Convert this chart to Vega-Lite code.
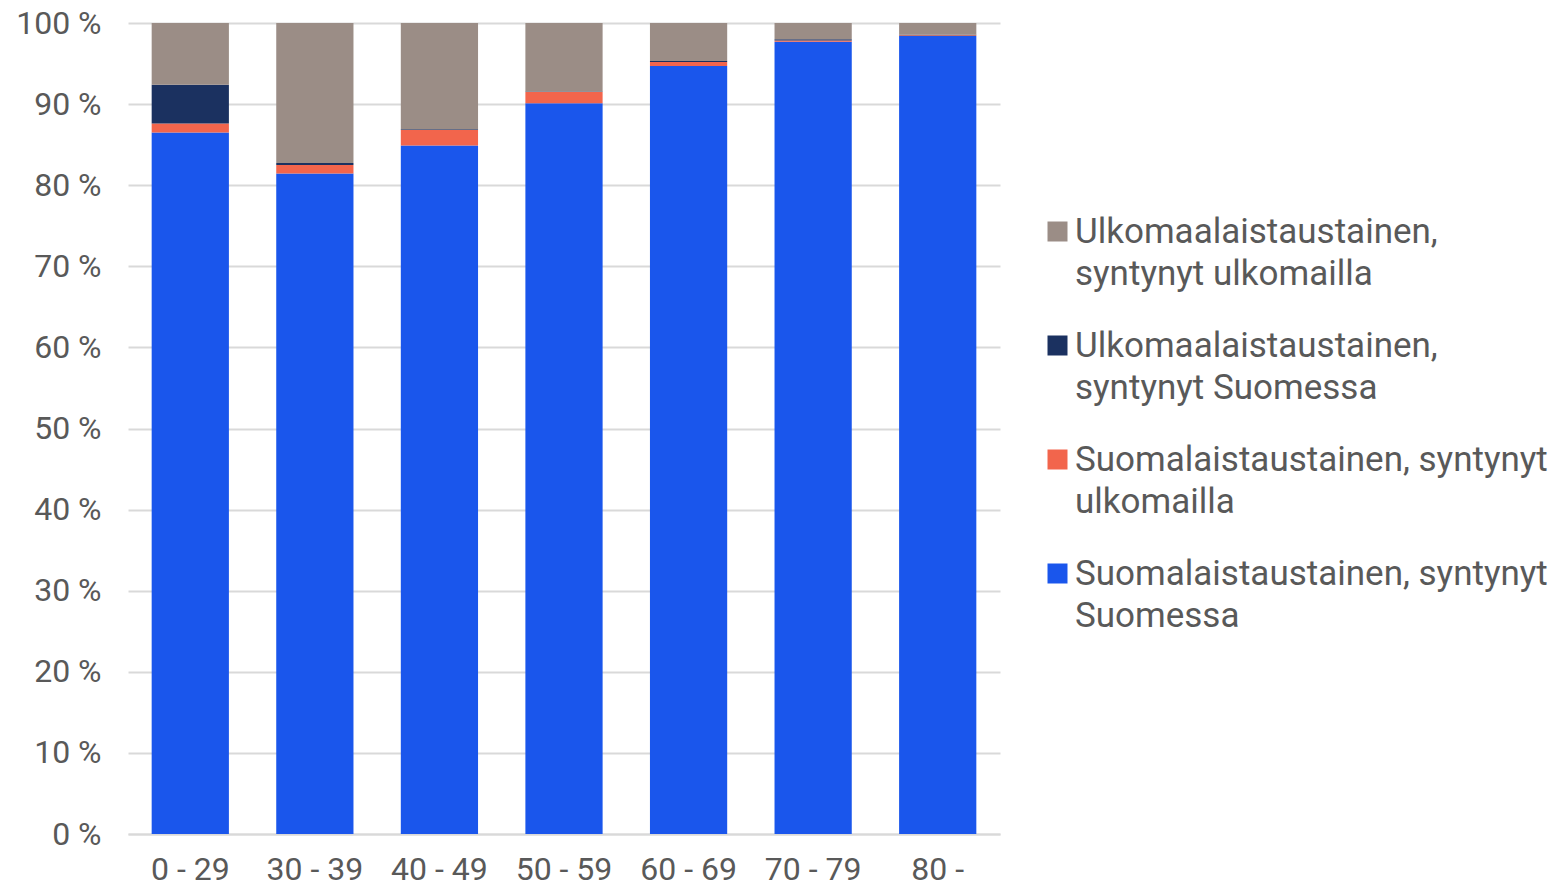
{
  "$schema": "https://vega.github.io/schema/vega-lite/v6.json",
  "width": 872,
  "height": 811,
  "autosize": "none",
  "padding": {"left": 128, "top": 23, "right": 562, "bottom": 52},
  "background": "white",
  "data": {
    "values": [
      {"ika": "0 - 29", "ryhma": "Suomalaistaustainen, syntynyt Suomessa", "osuus": 86.5},
      {"ika": "0 - 29", "ryhma": "Suomalaistaustainen, syntynyt ulkomailla", "osuus": 1.1},
      {"ika": "0 - 29", "ryhma": "Ulkomaalaistaustainen, syntynyt Suomessa", "osuus": 4.8},
      {"ika": "0 - 29", "ryhma": "Ulkomaalaistaustainen, syntynyt ulkomailla", "osuus": 7.6},
      {"ika": "30 - 39", "ryhma": "Suomalaistaustainen, syntynyt Suomessa", "osuus": 81.45},
      {"ika": "30 - 39", "ryhma": "Suomalaistaustainen, syntynyt ulkomailla", "osuus": 1.05},
      {"ika": "30 - 39", "ryhma": "Ulkomaalaistaustainen, syntynyt Suomessa", "osuus": 0.25},
      {"ika": "30 - 39", "ryhma": "Ulkomaalaistaustainen, syntynyt ulkomailla", "osuus": 17.25},
      {"ika": "40 - 49", "ryhma": "Suomalaistaustainen, syntynyt Suomessa", "osuus": 84.9},
      {"ika": "40 - 49", "ryhma": "Suomalaistaustainen, syntynyt ulkomailla", "osuus": 1.9},
      {"ika": "40 - 49", "ryhma": "Ulkomaalaistaustainen, syntynyt Suomessa", "osuus": 0.1},
      {"ika": "40 - 49", "ryhma": "Ulkomaalaistaustainen, syntynyt ulkomailla", "osuus": 13.1},
      {"ika": "50 - 59", "ryhma": "Suomalaistaustainen, syntynyt Suomessa", "osuus": 90.1},
      {"ika": "50 - 59", "ryhma": "Suomalaistaustainen, syntynyt ulkomailla", "osuus": 1.4},
      {"ika": "50 - 59", "ryhma": "Ulkomaalaistaustainen, syntynyt Suomessa", "osuus": 0.05},
      {"ika": "50 - 59", "ryhma": "Ulkomaalaistaustainen, syntynyt ulkomailla", "osuus": 8.45},
      {"ika": "60 - 69", "ryhma": "Suomalaistaustainen, syntynyt Suomessa", "osuus": 94.7},
      {"ika": "60 - 69", "ryhma": "Suomalaistaustainen, syntynyt ulkomailla", "osuus": 0.5},
      {"ika": "60 - 69", "ryhma": "Ulkomaalaistaustainen, syntynyt Suomessa", "osuus": 0.1},
      {"ika": "60 - 69", "ryhma": "Ulkomaalaistaustainen, syntynyt ulkomailla", "osuus": 4.7},
      {"ika": "70 - 79", "ryhma": "Suomalaistaustainen, syntynyt Suomessa", "osuus": 97.7},
      {"ika": "70 - 79", "ryhma": "Suomalaistaustainen, syntynyt ulkomailla", "osuus": 0.15},
      {"ika": "70 - 79", "ryhma": "Ulkomaalaistaustainen, syntynyt Suomessa", "osuus": 0.15},
      {"ika": "70 - 79", "ryhma": "Ulkomaalaistaustainen, syntynyt ulkomailla", "osuus": 2.0},
      {"ika": "80 -", "ryhma": "Suomalaistaustainen, syntynyt Suomessa", "osuus": 98.4},
      {"ika": "80 -", "ryhma": "Suomalaistaustainen, syntynyt ulkomailla", "osuus": 0.1},
      {"ika": "80 -", "ryhma": "Ulkomaalaistaustainen, syntynyt Suomessa", "osuus": 0.05},
      {"ika": "80 -", "ryhma": "Ulkomaalaistaustainen, syntynyt ulkomailla", "osuus": 1.45}
    ]
  },
  "mark": {"type": "bar"},
  "encoding": {
    "x": {
      "field": "ika",
      "type": "nominal",
      "sort": null,
      "scale": {"paddingInner": 0.38, "paddingOuter": 0.19},
      "axis": {
        "title": null,
        "labelAngle": 0,
        "labelFont": "Roboto",
        "labelFontSize": 32,
        "labelColor": "#595959",
        "labelPadding": 20,
        "ticks": false,
        "domain": true,
        "domainColor": "#d9d9d9",
        "domainWidth": 2,
        "grid": false
      }
    },
    "y": {
      "field": "osuus",
      "type": "quantitative",
      "stack": "zero",
      "scale": {"domain": [0, 100], "nice": false},
      "axis": {
        "title": null,
        "values": [0, 10, 20, 30, 40, 50, 60, 70, 80, 90, 100],
        "labelExpr": "datum.value + ' %'",
        "labelFont": "Roboto",
        "labelFontSize": 32,
        "labelColor": "#595959",
        "labelPadding": 27,
        "ticks": false,
        "domain": false,
        "grid": true,
        "gridColor": "#d9d9d9",
        "gridWidth": 2
      }
    },
    "color": {
      "field": "ryhma",
      "type": "nominal",
      "scale": {
        "domain": [
          "Ulkomaalaistaustainen, syntynyt ulkomailla",
          "Ulkomaalaistaustainen, syntynyt Suomessa",
          "Suomalaistaustainen, syntynyt ulkomailla",
          "Suomalaistaustainen, syntynyt Suomessa"
        ],
        "range": ["#9B8D86", "#1B3160", "#F2654C", "#1A56EC"]
      },
      "legend": {
        "title": null,
        "orient": "none",
        "legendX": 912,
        "legendY": 191,
        "symbolType": "square",
        "symbolSize": 400,
        "symbolStrokeWidth": 0,
        "labelFont": "Roboto",
        "labelFontSize": 35,
        "labelColor": "#595959",
        "labelLimit": 700,
        "labelOffset": 0,
        "rowPadding": 36,
        "encode": {"labels": {"update": {"lineHeight": {"value": 42}}}},
        "labelExpr": "datum.label == 'Ulkomaalaistaustainen, syntynyt ulkomailla' ? ['Ulkomaalaistaustainen,', 'syntynyt ulkomailla'] : datum.label == 'Ulkomaalaistaustainen, syntynyt Suomessa' ? ['Ulkomaalaistaustainen,', 'syntynyt Suomessa'] : datum.label == 'Suomalaistaustainen, syntynyt ulkomailla' ? ['Suomalaistaustainen, syntynyt', 'ulkomailla'] : ['Suomalaistaustainen, syntynyt', 'Suomessa']"
      }
    },
    "order": {"field": "ryhma", "sort": "ascending"}
  },
  "config": {"view": {"stroke": null}}
}
